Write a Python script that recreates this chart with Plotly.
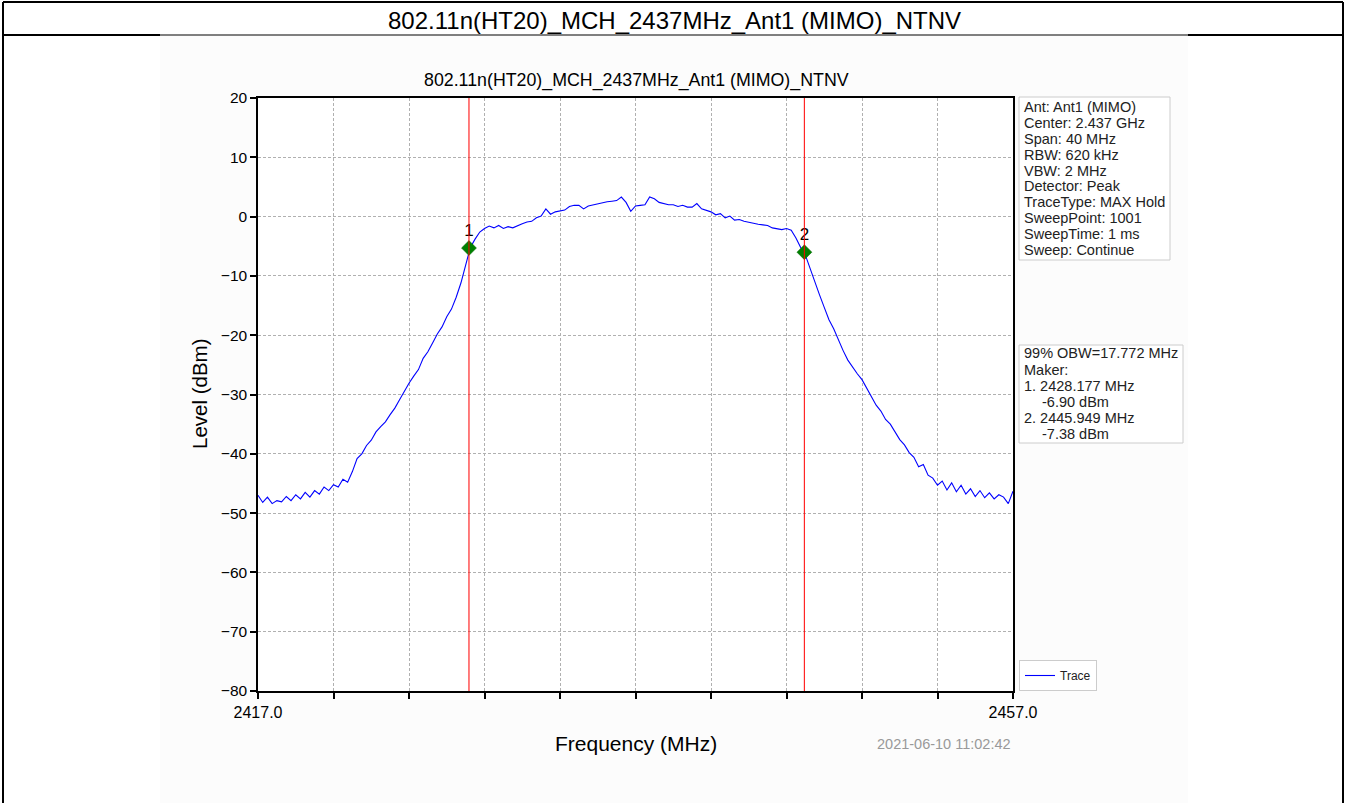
import plotly.graph_objects as go

# ---------------- data ----------------
freq_start = 2417.0
freq_step = 0.25
level_dbm = [
    -47.0, -48.2, -47.3, -48.4, -47.9, -48.1, -47.2, -47.9, -46.9, -47.6,
    -46.5, -47.3, -46.2, -46.8, -45.6, -46.2, -45.2, -45.6, -44.3, -44.8,
    -43.0, -40.8, -40.0, -38.6, -37.7, -36.3, -35.4, -34.6, -33.4, -32.3,
    -30.9, -29.4, -28.1, -26.9, -25.8, -23.9, -22.8, -21.3, -19.8, -18.6,
    -16.9, -15.6, -13.6, -11.2, -8.2, -5.2, -3.8, -2.6, -2.0, -1.6,
    -1.9, -1.5, -2.0, -1.7, -1.9, -1.5, -1.2, -0.9, -0.8, -0.2,
    0.1, 1.3, 0.4, 0.8, 1.0, 1.1, 1.7, 1.9, 1.9, 1.3,
    1.8, 2.0, 2.1, 2.4, 2.5, 2.6, 2.7, 3.3, 2.4, 0.9,
    1.8, 1.9, 2.0, 3.3, 3.0, 2.4, 2.2, 2.0, 2.0, 1.7,
    1.9, 1.6, 1.6, 2.2, 1.3, 1.0, 0.8, 0.3, 0.5, -0.2,
    0.1, -0.6, -0.5, -0.8, -1.0, -1.1, -1.3, -1.4, -1.5, -1.9,
    -2.1, -2.2, -2.0, -2.3, -3.6, -5.2, -6.5, -8.8, -10.8, -13.2,
    -15.3, -17.4, -18.9, -20.9, -22.6, -24.2, -25.4, -26.5, -27.5, -28.9,
    -30.3, -31.8, -32.8, -34.2, -35.0, -36.3, -37.6, -38.5, -39.8, -40.6,
    -42.2, -41.8, -43.6, -44.1, -45.3, -44.6, -46.1, -44.9, -46.4, -45.3,
    -46.8, -45.9, -47.2, -46.2, -47.4, -46.6, -47.6, -46.9, -47.3, -48.4,
    -46.3,
]
freq_mhz = [freq_start + freq_step * i for i in range(len(level_dbm))]

marker_labels = ["1", "2"]
marker_freq = [2428.177, 2445.949]
marker_level_drawn = [-5.3, -6.0]

x_tick_vals = [2417, 2421, 2425, 2429, 2433, 2437, 2441, 2445, 2449, 2453, 2457]
x_tick_text = ["2417.0", "", "", "", "", "", "", "", "", "", "2457.0"]
y_tick_vals = [20, 10, 0, -10, -20, -30, -40, -50, -60, -70, -80]

title_text = "802.11n(HT20)_MCH_2437MHz_Ant1 (MIMO)_NTNV"
info_lines = [
    "Ant: Ant1 (MIMO)",
    "Center: 2.437 GHz",
    "Span: 40 MHz",
    "RBW: 620 kHz",
    "VBW: 2 MHz",
    "Detector: Peak",
    "TraceType: MAX Hold",
    "SweepPoint: 1001",
    "SweepTime: 1 ms",
    "Sweep: Continue",
]
obw_lines = [
    ("99% OBW=17.772 MHz", False),
    ("Maker:", False),
    ("1. 2428.177 MHz", False),
    ("-6.90 dBm", True),
    ("2. 2445.949 MHz", False),
    ("-7.38 dBm", True),
]
timestamp = "2021-06-10 11:02:42"

# ---------------- layout helpers (pixel -> paper) ----------------
W, H = 1346, 803
PL, PR, PT, PB = 258, 1013, 98, 691


def px(x):
    return (x - PL) / (PR - PL)


def py(y):
    return (PB - y) / (PB - PT)


FONT = "Arial, Liberation Sans, sans-serif"

fig = go.Figure()

fig.add_trace(go.Scatter(
    x=freq_mhz, y=level_dbm, mode="lines", name="Trace",
    line=dict(color="#0000ff", width=1.1),
))

fig.add_trace(go.Scatter(
    x=marker_freq, y=marker_level_drawn, mode="markers+text",
    text=marker_labels, textposition="top center",
    textfont=dict(family=FONT, size=17, color="black"),
    marker=dict(symbol="diamond", size=11.5, color="#008000",
                line=dict(color="#006400", width=0.5)),
    showlegend=False, cliponaxis=False,
))

shapes = []
# outer document frame: off-white picture area, white plot area
shapes.append(dict(type="rect", xref="paper", yref="paper",
                   x0=px(160), x1=px(1188), y0=py(803), y1=py(36),
                   fillcolor="#fcfcfc", line=dict(width=0), layer="below"))
shapes.append(dict(type="rect", xref="paper", yref="paper",
                   x0=0, x1=1, y0=0, y1=1,
                   fillcolor="white", line=dict(width=0), layer="below"))
for (x0, y0, x1, y1, w) in [(3, 2, 1343, 2, 2), (3, 2, 3, 803, 2),
                            (1343, 2, 1343, 803, 2), (3, 35, 160, 35, 2),
                            (1188, 35, 1343, 35, 2), (160, 35, 1188, 35, 1)]:
    shapes.append(dict(type="line", xref="paper", yref="paper",
                       x0=px(x0), x1=px(x1), y0=py(y0), y1=py(y1),
                       line=dict(color="black", width=w)))
# marker lines
for f in marker_freq:
    shapes.append(dict(type="line", xref="x", yref="paper", x0=f, x1=f,
                       y0=0, y1=1, line=dict(color="rgba(255,0,0,0.85)", width=1.2),
                       layer="above"))
# info boxes
shapes.append(dict(type="rect", xref="paper", yref="paper",
                   x0=px(1019), x1=px(1170), y0=py(260), y1=py(97),
                   fillcolor="white", line=dict(color="#cccccc", width=1)))
shapes.append(dict(type="rect", xref="paper", yref="paper",
                   x0=px(1019), x1=px(1183), y0=py(443), y1=py(345),
                   fillcolor="white", line=dict(color="#cccccc", width=1)))

annotations = []
annotations.append(dict(text=title_text, xref="paper", yref="paper",
                        x=px(674), y=py(20), xanchor="center", yanchor="middle",
                        showarrow=False, font=dict(family=FONT, size=24, color="black")))
annotations.append(dict(text=title_text, xref="paper", yref="paper",
                        x=px(636), y=py(80), xanchor="center", yanchor="middle",
                        showarrow=False, font=dict(family=FONT, size=17.8, color="black")))
annotations.append(dict(text="Frequency (MHz)", xref="paper", yref="paper",
                        x=px(636), y=py(743), xanchor="center", yanchor="middle",
                        showarrow=False, font=dict(family=FONT, size=21, color="black")))
annotations.append(dict(text="Level (dBm)", xref="paper", yref="paper",
                        x=px(199), y=py(394), xanchor="center", yanchor="middle",
                        textangle=-90, showarrow=False,
                        font=dict(family=FONT, size=20.5, color="black")))
annotations.append(dict(text=timestamp, xref="paper", yref="paper",
                        x=px(1013), y=py(744), xanchor="right", yanchor="middle",
                        showarrow=False, font=dict(family=FONT, size=14.5, color="#999999")))
for i, line in enumerate(info_lines):
    annotations.append(dict(text=line, xref="paper", yref="paper",
                            x=px(1022), y=py(106.7 + 15.95 * i),
                            xanchor="left", yanchor="middle", showarrow=False,
                            font=dict(family=FONT, size=14.5, color="#222222")))
for i, (line, indent) in enumerate(obw_lines):
    annotations.append(dict(text=line, xref="paper", yref="paper",
                            x=px(1040 if indent else 1022), y=py(353.3 + 16.2 * i),
                            xanchor="left", yanchor="middle", showarrow=False,
                            font=dict(family=FONT, size=14.5, color="#222222")))

fig.update_layout(
    width=W, height=H,
    margin=dict(l=PL, r=W - PR, t=PT, b=H - PB),
    paper_bgcolor="white", plot_bgcolor="white",
    font=dict(family=FONT, color="black"),
    shapes=shapes, annotations=annotations,
    showlegend=True,
    legend=dict(x=px(1019), y=0, xanchor="left", yanchor="bottom",
                bgcolor="white", bordercolor="#cccccc", borderwidth=1,
                font=dict(family=FONT, size=12, color="#222222"),
                itemwidth=30, tracegroupgap=0),
)

fig.update_xaxes(
    range=[2417, 2457], tickvals=x_tick_vals, ticktext=x_tick_text,
    ticks="outside", ticklen=6, tickwidth=1.5, tickcolor="black",
    tickfont=dict(family=FONT, size=16, color="black"),
    showline=True, linewidth=1.5, linecolor="black", mirror=True,
    showgrid=True, gridcolor="#b0b0b0", griddash="3px,2px", gridwidth=0.8,
    zeroline=False,
)
fig.update_yaxes(
    range=[-80, 20], tickvals=y_tick_vals,
    ticks="outside", ticklen=6, tickwidth=1.5, tickcolor="black",
    tickfont=dict(family=FONT, size=15.5, color="black"),
    showline=True, linewidth=1.5, linecolor="black", mirror=True,
    showgrid=True, gridcolor="#b0b0b0", griddash="3px,2px", gridwidth=0.8,
    zeroline=False,
)

fig.write_html(
    "out.html",
    config={"displayModeBar": False},
    post_script="document.body.style.margin='0';document.body.style.overflow='hidden';",
)
